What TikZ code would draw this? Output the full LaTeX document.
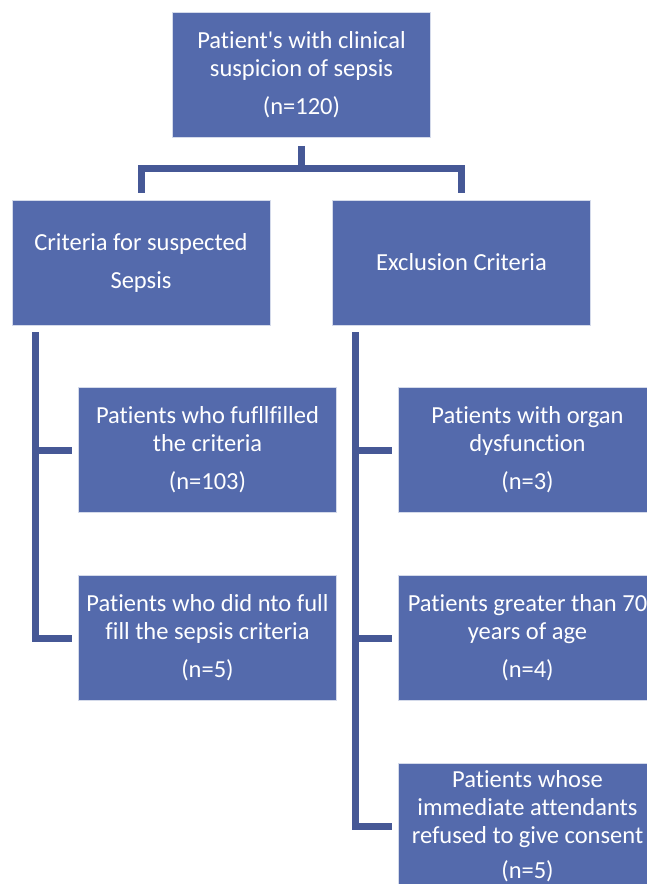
\documentclass[tikz,border=0pt]{standalone}
\usepackage{fontspec}
\setmainfont{Carlito}[Ligatures=NoCommon]
\usetikzlibrary{positioning}
\definecolor{boxblue}{RGB}{84,106,172}
\definecolor{linkblue}{RGB}{70,88,150}
\tikzset{
  flowbox/.style={rectangle, fill=boxblue, draw=white!75!boxblue, line width=0.8pt,
    minimum width=258pt, minimum height=125pt, text=white, align=center,
    font=\fontsize{24.5}{28}\selectfont, inner sep=0pt},
  link/.style={draw=linkblue, line width=7pt}
}
\begin{document}
\begin{tikzpicture}[x=1pt,y=-1pt]
\useasboundingbox (0,0) rectangle (646,884);
% boxes
\node[flowbox] (top) at (301.5,75) {Patient\textquotesingle s with clinical\\suspicion of sepsis\\[10pt](n=120)};
\node[flowbox] (crit) at (141,262.5) {Criteria for suspected\\[10pt]Sepsis};
\node[flowbox] (excl) at (461.5,262.5) {Exclusion Criteria};
\node[flowbox] (ful) at (207.5,450) {Patients who fufllfilled\\the criteria\\[10pt](n=103)};
\node[flowbox] (notful) at (207.5,638) {Patients who did nto full\\fill the sepsis criteria\\[10pt](n=5)};
\node[flowbox] (organ) at (527.5,450) {Patients with organ\\dysfunction\\[10pt](n=3)};
\node[flowbox] (older) at (527.5,638) {Patients greater than 70\\years of age\\[10pt](n=4)};
\node[flowbox] (refuse) at (527.5,826) {Patients whose\\immediate attendants\\refused to give consent\\[7pt](n=5)};
% connectors
\coordinate (hub) at (301.5,168);
\draw[link] ([yshift=-8pt]top.south) -- (hub);
\draw[link] ([yshift=7pt]crit.north) |- (hub) -| ([yshift=7pt]excl.north);
\coordinate (lspine) at ([xshift=23.5pt,yshift=-7pt]crit.south west);
\coordinate (rspine) at ([xshift=23.5pt,yshift=-7pt]excl.south west);
\draw[link] (lspine) |- ([xshift=-6pt]notful.west);
\draw[link] (lspine |- ful.west) -- ([xshift=-6pt]ful.west);
\draw[link] (rspine) |- ([xshift=-6pt]refuse.west);
\draw[link] (rspine |- organ.west) -- ([xshift=-6pt]organ.west);
\draw[link] (rspine |- older.west) -- ([xshift=-6pt]older.west);
\end{tikzpicture}
\end{document}
